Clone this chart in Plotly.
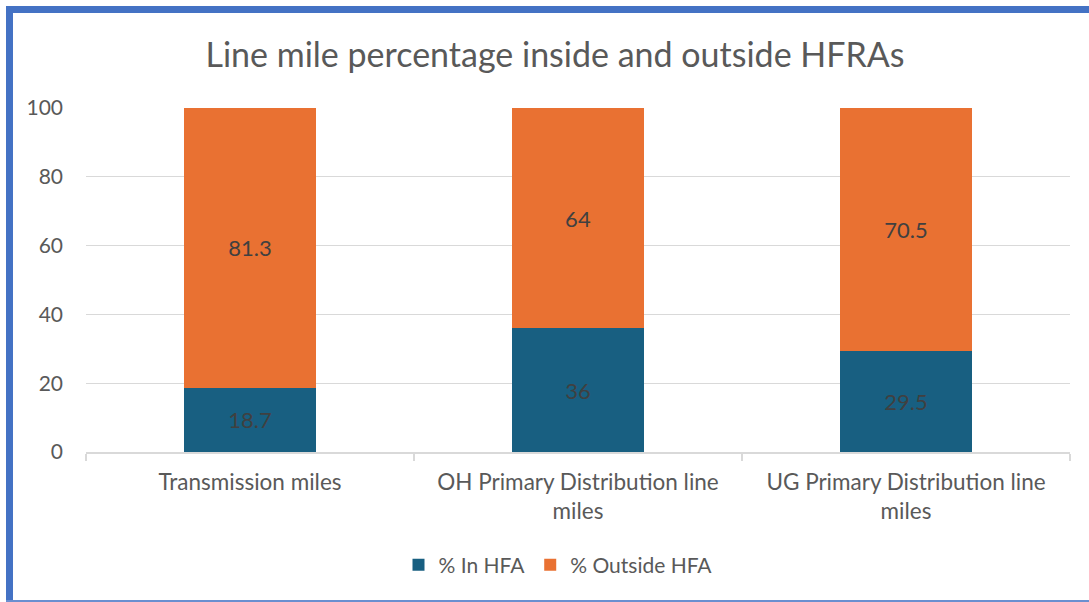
import plotly.graph_objects as go

categories = ["Transmission miles", "OH Primary Distribution line<br>miles", "UG Primary Distribution line<br>miles"]
in_hfa = [18.7, 36, 29.5]
outside_hfa = [81.3, 64, 70.5]
series_names = ["% In HFA", "% Outside HFA"]
title_text = "Line mile percentage inside and outside HFRAs"

W, H = 1089, 602
L, R, T, B = 86, 1070, 108, 452

def px_x(x):
    return (x - L) / (R - L)

def px_y(y):
    return (B - y) / (B - T)

font_family = "Lato, 'Open Sans', sans-serif"
label_color = "#404040"

fig = go.Figure()
fig.add_trace(go.Bar(
    x=categories, y=in_hfa, name=series_names[0],
    marker=dict(color="#185F81", line=dict(width=0)),
    texttemplate="%{y}", textposition="inside", insidetextanchor="middle",
    textfont=dict(color=label_color, size=22, family=font_family),
))
fig.add_trace(go.Bar(
    x=categories, y=outside_hfa, name=series_names[1],
    marker=dict(color="#E97132", line=dict(width=0)),
    texttemplate="%{y}", textposition="inside", insidetextanchor="middle",
    textfont=dict(color=label_color, size=22, family=font_family),
))

shapes = [
    dict(type="line", xref="paper", yref="paper", x0=px_x(6), x1=px_x(1095), y0=px_y(9.5), y1=px_y(9.5),
         line=dict(color="#4472C4", width=7)),
    dict(type="line", xref="paper", yref="paper", x0=px_x(9.5), x1=px_x(9.5), y0=px_y(6), y1=px_y(605),
         line=dict(color="#4472C4", width=7)),
    dict(type="line", xref="paper", yref="paper", x0=px_x(6), x1=px_x(1095), y0=px_y(601), y1=px_y(601),
         line=dict(color="#6A8FD0", width=2)),
]

fig.update_layout(
    width=W, height=H,
    barmode="stack", bargap=0.6,
    paper_bgcolor="white", plot_bgcolor="white",
    margin=dict(l=L, r=W - R, t=T, b=H - B, autoexpand=False),
    font=dict(family=font_family, color="#595959", size=21),
    title=dict(text=title_text, x=555 / W, xref="container", xanchor="center",
               y=1 - 55 / H, yref="container", yanchor="middle",
               font=dict(size=34, color="#595959", family=font_family)),
    legend=dict(orientation="h", x=px_x(558), xanchor="center", y=px_y(565), yanchor="middle",
                font=dict(size=21, color="#595959"), traceorder="normal",
                itemwidth=30, itemsizing="constant"),
    shapes=shapes,
    showlegend=True,
)
fig.update_yaxes(range=[0, 100], dtick=20, showgrid=True, gridcolor="#D9D9D9", gridwidth=1,
                 zeroline=False, showline=False, ticks="", ticklabelstandoff=22,
                 tickfont=dict(size=21, color="#595959"))
fig.update_xaxes(showline=True, linecolor="#D9D9D9", linewidth=1.5, ticks="outside",
                 tickson="boundaries", ticklen=7, tickcolor="#D9D9D9", tickwidth=1.5,
                 tickfont=dict(size=22.5, color="#595959"), ticklabelstandoff=9)

fig.write_html("out.html")
